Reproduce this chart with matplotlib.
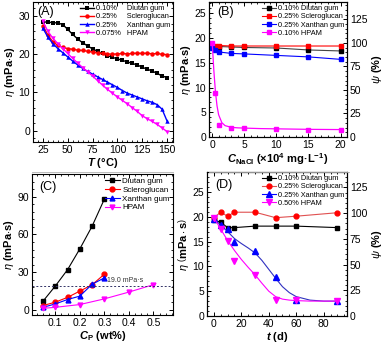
import numpy as np
import matplotlib
matplotlib.use("Agg")
import matplotlib.pyplot as plt
from matplotlib.ticker import MultipleLocator
from matplotlib.lines import Line2D

plt.rcParams['font.family'] = ['Liberation Sans', 'DejaVu Sans']
plt.rcParams['mathtext.fontset'] = 'custom'
plt.rcParams['mathtext.rm'] = 'Liberation Sans'
plt.rcParams['mathtext.it'] = 'Liberation Sans:italic'
plt.rcParams['mathtext.bf'] = 'Liberation Sans:bold'
plt.rcParams['mathtext.bfit'] = 'Liberation Sans:italic:bold'

# ---------------- (A) viscosity vs temperature ----------------
temp_a = [25, 30, 35, 40, 45, 50, 55, 60, 65, 70, 75, 80, 85, 90, 95,
          100, 105, 110, 115, 120, 125, 130, 135, 140, 145, 150]
diutan_a = [28.5, 28.4, 28.3, 28.2, 27.8, 26.5, 25.2, 24.0, 23.0, 22.2, 21.4, 20.8, 20.2,
            19.6, 19.2, 18.8, 18.4, 18.0, 17.6, 17.2, 16.6, 16.1, 15.6, 15.0, 14.3, 13.9]
sclero_a = [27.5, 25.0, 23.3, 22.3, 21.8, 21.5, 21.3, 21.1, 21.0, 20.8, 20.6, 20.4, 20.2,
            20.1, 20.0, 20.1, 20.2, 20.1, 20.2, 20.3, 20.2, 20.3, 20.1, 20.2, 20.0, 19.9]
xanthan_a = [26.8, 24.5, 22.8, 21.5, 20.4, 19.3, 18.2, 17.2, 16.3, 15.5, 14.8, 14.1, 13.4,
             12.7, 12.0, 11.3, 10.5, 9.8, 9.3, 8.8, 8.3, 7.8, 7.4, 6.8, 5.6, 2.5]
hpam_a = [28.6, 26.0, 24.2, 22.8, 21.5, 20.2, 18.9, 17.7, 16.5, 15.4, 14.3, 13.1, 11.9,
          10.8, 9.8, 8.8, 7.9, 7.0, 6.0, 5.0, 3.9, 3.1, 2.4, 1.6, 0.7, -0.3]
labels_a = ["0.10%     Diutan gum", "0.25%     Scleroglucan", "0.25%     Xanthan gum",
            "0.075%   HPAM"]

# ---------------- (B) viscosity vs salinity ----------------
nacl_b = [0, 0.5, 1, 3, 5, 10, 15, 20]
diutan_b = [18.3, 18.3, 18.3, 18.2, 18.1, 18.0, 17.6, 17.4]
sclero_b = [18.5, 18.5, 18.5, 18.4, 18.4, 18.4, 18.4, 18.4]
xanthan_b = [17.9, 17.6, 17.2, 16.9, 16.8, 16.5, 16.2, 15.7]
hpam_b = [19.1, 8.8, 2.4, 1.9, 1.8, 1.6, 1.5, 1.45]
hpam_fit_x_b = [0, 0.25, 0.5, 0.75, 1, 1.5, 2, 3, 4, 5, 7.5, 10, 15, 20]
hpam_fit_y_b = [19.1, 13.5, 9.2, 6.3, 4.5, 2.9, 2.3, 1.95, 1.85, 1.8, 1.7, 1.65, 1.55, 1.5]
labels_b = ["0.10% Diutan gum", "0.25% Scleroglucan", "0.25% Xanthan gum", "0.10% HPAM"]

# ---------------- (C) viscosity vs polymer concentration ----------------
cp_c = [0.05, 0.10, 0.15, 0.20, 0.25, 0.30]
diutan_c = [7.0, 19.0, 32.0, 48.5, 66.5, 88.0]
sclero_c = [3.5, 6.2, 10.0, 15.0, 20.0, 28.4]
xanthan_c = [2.1, 4.8, 8.3, 11.0, 20.4, 25.5]
cp_hpam_c = [0.05, 0.10, 0.20, 0.30, 0.40, 0.50]
hpam_c = [1.3, 2.1, 4.3, 8.8, 14.2, 20.1]
target_c = 19.0
labels_c = ["Diutan gum", "Scleroglucan", "Xanthan gum", "HPAM"]

# ---------------- (D) viscosity vs aging time ----------------
days_d = [0, 5, 10, 15, 30, 45, 60, 90]
diutan_d = [19.3, 18.9, 17.8, 17.8, 18.1, 18.1, 18.1, 17.8]
sclero_d = [19.8, 20.9, 20.1, 20.9, 20.9, 19.8, 20.1, 20.8]
xanthan_d = [19.6, 18.4, 17.5, 14.9, 13.1, 7.9, 3.2, 3.0]
hpam_d = [19.8, 17.6, 15.2, 11.0, 8.2, 3.2, 3.2, 3.0]
fit_t_d = [0, 5, 10, 15, 20, 25, 30, 35, 40, 45, 50, 55, 60, 70, 80, 90]
xanthan_fit_d = [19.6, 18.3, 17.0, 15.6, 14.6, 13.7, 12.7, 11.2, 9.4, 7.6, 5.9, 4.7, 3.9,
                 3.2, 3.0, 3.0]
hpam_fit_d = [19.8, 17.5, 15.2, 13.2, 11.4, 9.8, 8.3, 6.6, 5.0, 3.9, 3.4, 3.2, 3.1,
              3.0, 3.0, 3.0]
labels_d = ["0.10% Diutan gum", "0.25% Scleroglucan", "0.25% Xanthan gum", "0.50% HPAM"]

colors = ["black", "#ff0000", "#0000ff", "#ff00ff"]

W, H = 384, 345
fig = plt.figure(figsize=(W / 100, H / 100), dpi=100)


def px_axes(x0, y0, x1, y1):
    return fig.add_axes([x0 / W, 1 - y1 / H, (x1 - x0) / W, (y1 - y0) / H])


def style(ax, right=True):
    ax.tick_params(which="both", direction="in", top=True, right=right,
                   labelsize=7.5, pad=2)
    ax.tick_params(which="major", length=3, width=0.7)
    ax.tick_params(which="minor", length=1.6, width=0.6)
    for s in ax.spines.values():
        s.set_linewidth(0.8)


def right_axis(ax, top):
    ax2 = ax.twinx()
    ax2.set_ylim(0, top)
    ax2.yaxis.set_major_locator(MultipleLocator(25))
    ax2.yaxis.set_minor_locator(MultipleLocator(5))
    ax2.tick_params(which="both", direction="in", labelsize=7.5, pad=2)
    ax2.tick_params(which="major", length=3, width=0.7)
    ax2.tick_params(which="minor", length=1.6, width=0.6)
    ax2.set_ylabel(r"$\psi$ (%)", fontsize=8, fontweight="bold", labelpad=2)
    return ax2


def legend(ax, handles, labels, fs=5.3):
    ax.legend(handles, labels, loc="upper right", frameon=False, fontsize=fs,
              handlelength=1.9, handletextpad=0.3, labelspacing=0.15,
              borderaxespad=0.15, borderpad=0.25)


eta_label = r"$\eta$ (mPa$\cdot$s)"
lab_kw = dict(fontsize=8, fontweight="bold", labelpad=1)

# ----- (A)
ax = px_axes(33, 2, 173, 142)
hs = []
for y, c, m in zip([diutan_a, sclero_a, xanthan_a, hpam_a], colors, ["s", "o", "^", "v"]):
    h, = ax.plot(temp_a, y, color=c, marker=m, ms=3.2, lw=1.0, mew=0)
    hs.append(h)
ax.set_xlim(15, 156)
ax.set_ylim(-3, 33.7)
ax.xaxis.set_major_locator(MultipleLocator(25))
ax.xaxis.set_minor_locator(MultipleLocator(5))
ax.yaxis.set_major_locator(MultipleLocator(10))
ax.yaxis.set_minor_locator(MultipleLocator(2))
style(ax)
ax.set_xlabel(r"$\mathbfit{T}$ (°C)", **lab_kw)
ax.set_ylabel(eta_label, **lab_kw)
ax.text(0.03, 0.97, "(A)", transform=ax.transAxes, ha="left", va="top", fontsize=9)
legend(ax, hs, labels_a)

# ----- (B)
ax = px_axes(209, 2, 347, 137)
hs = []
line_cols_b = ["#444444", "#ff0000", "#0000ff"]
for y, c, lc in zip([diutan_b, sclero_b, xanthan_b], colors[:3], line_cols_b):
    h, = ax.plot(nacl_b, y, color=lc, marker="s", mfc=c, mec=c, ms=3.5, lw=0.8)
    hs.append(h)
ax.plot(hpam_fit_x_b, hpam_fit_y_b, color=colors[3], lw=0.9)
ax.plot(nacl_b, hpam_b, ls="none", marker="s", color=colors[3], ms=3.5)
hs.append(Line2D([], [], color=colors[3], marker="s", ms=3.5, lw=0.8))
ax.set_xlim(-0.5, 21)
ax.set_ylim(0, 27.3)
ax.xaxis.set_major_locator(MultipleLocator(5))
ax.xaxis.set_minor_locator(MultipleLocator(1))
ax.yaxis.set_major_locator(MultipleLocator(5))
ax.yaxis.set_minor_locator(MultipleLocator(1))
style(ax, right=False)
ax.set_xlabel(r"$\mathbfit{C}_{\mathbf{NaCl}}$ (×10$^{\mathbf{4}}$ mg·L$^{\mathbf{-1}}$)", **lab_kw)
ax.set_ylabel(eta_label, **lab_kw)
ax.text(0.06, 0.97, "(B)", transform=ax.transAxes, ha="left", va="top", fontsize=9)
legend(ax, hs, labels_b)
right_axis(ax, 143.4)

# ----- (C)
ax = px_axes(32, 174, 173, 315)
hs = []
for y, c, m in zip([diutan_c, sclero_c, xanthan_c], colors[:3], ["s", "o", "^"]):
    h, = ax.plot(cp_c, y, color=c, marker=m, ms=3.5, lw=0.8)
    hs.append(h)
h, = ax.plot(cp_hpam_c, hpam_c, color=colors[3], marker="v", ms=3.5, lw=0.8)
hs.append(h)
ax.axhline(target_c, color="#333366", ls=(0, (2, 2)), lw=0.7)
ax.text(0.385, target_c + 1.5, "19.0 mPa·s", fontsize=5, color="#333333",
        ha="center", va="bottom")
ax.set_xlim(0.005, 0.58)
ax.set_ylim(-4, 108)
ax.xaxis.set_major_locator(MultipleLocator(0.1))
ax.xaxis.set_minor_locator(MultipleLocator(0.025))
ax.yaxis.set_major_locator(MultipleLocator(30))
ax.yaxis.set_minor_locator(MultipleLocator(6))
style(ax)
ax.set_xlabel(r"$\mathbfit{C}_{\mathbf{P}}$ (wt%)", **lab_kw)
ax.set_ylabel(eta_label, **lab_kw)
ax.text(0.05, 0.95, "(C)", transform=ax.transAxes, ha="left", va="top", fontsize=9)
legend(ax, hs, labels_c, fs=5.8)

# ----- (D)
ax = px_axes(207, 172, 347, 316)
hs = []
h, = ax.plot(days_d, diutan_d, color="black", marker="s", ms=3.5, lw=0.8)
hs.append(h)
h, = ax.plot(days_d, sclero_d, color="#e05050", marker="o", mfc="#ff0000", mec="#ff0000",
             ms=3.5, lw=0.8)
hs.append(h)
ax.plot(fit_t_d, xanthan_fit_d, color="#3030c0", lw=0.8)
ax.plot(days_d, xanthan_d, ls="none", marker="^", color=colors[2], ms=3.8)
hs.append(Line2D([], [], color=colors[2], marker="^", ms=3.8, lw=0.8))
ax.plot(fit_t_d, hpam_fit_d, color=colors[3], lw=0.8)
ax.plot(days_d, hpam_d, ls="none", marker="v", color=colors[3], ms=3.8)
hs.append(Line2D([], [], color=colors[3], marker="v", ms=3.8, lw=0.8))
ax.set_xlim(-5, 97)
ax.set_ylim(0, 29)
ax.xaxis.set_major_locator(MultipleLocator(20))
ax.xaxis.set_minor_locator(MultipleLocator(5))
ax.yaxis.set_major_locator(MultipleLocator(5))
ax.yaxis.set_minor_locator(MultipleLocator(1))
style(ax, right=False)
ax.set_xlabel(r"$\mathbfit{t}$ (d)", **lab_kw)
ax.set_ylabel(r"$\eta\ \left(\mathbf{mPa\cdot s}\right)$", **lab_kw)
ax.text(0.06, 0.95, "(D)", transform=ax.transAxes, ha="left", va="top", fontsize=9)
legend(ax, hs, labels_d)
right_axis(ax, 140)

# thin separators under the top row
for x0, x1 in [(32, 173), (209, 349)]:
    fig.add_artist(Line2D([x0 / W, x1 / W], [1 - 172 / H] * 2, color="#b0b0b0", lw=0.6))

fig.savefig("out.png", dpi=100)
